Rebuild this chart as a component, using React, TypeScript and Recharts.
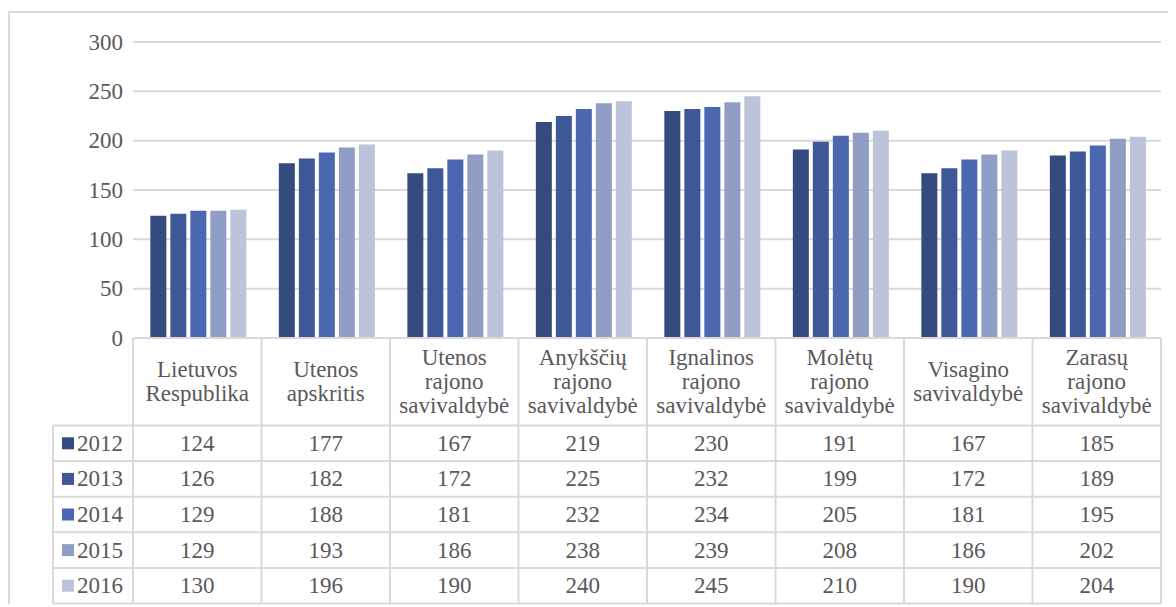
import { Bar, BarChart, CartesianGrid, XAxis, YAxis } from 'recharts';

const categories = [
  'Lietuvos\nRespublika',
  'Utenos\napskritis',
  'Utenos\nrajono\nsavivaldybė',
  'Anykščių\nrajono\nsavivaldybė',
  'Ignalinos\nrajono\nsavivaldybė',
  'Molėtų\nrajono\nsavivaldybė',
  'Visagino\nsavivaldybė',
  'Zarasų\nrajono\nsavivaldybė',
];

const years = ['2012', '2013', '2014', '2015', '2016'];
const colors = ['#354a7f', '#3d5797', '#4a67af', '#909ec6', '#bcc3da'];

const v2012 = [124, 177, 167, 219, 230, 191, 167, 185];
const v2013 = [126, 182, 172, 225, 232, 199, 172, 189];
const v2014 = [129, 188, 181, 232, 234, 205, 181, 195];
const v2015 = [129, 193, 186, 238, 239, 208, 186, 202];
const v2016 = [130, 196, 190, 240, 245, 210, 190, 204];

const series = [v2012, v2013, v2014, v2015, v2016];
const yTicks = [0, 50, 100, 150, 200, 250, 300];

const data = categories.map((name, i) => {
  const row: Record<string, string | number> = { name };
  years.forEach((y, s) => {
    row[y] = series[s][i];
  });
  return row;
});

// layout (svg coordinates)
const W = 1166;
const H = 594;
const PLOT_L = 123;
const PLOT_R = 1151;
const AXIS_Y = 325;
const HEADER_B = 412.5;
const ROW_H = 35.6;
const LEG_L = 43;
const BAND = (PLOT_R - PLOT_L) / categories.length;
const LINE = '#d9d9d9';
const TEXT = '#595959';
const FONT = "'Liberation Serif', 'DejaVu Serif', serif";
const FS = 23;
const txt = { fontFamily: FONT, fontSize: FS };

function TableTick(props: any) {
  const { x, index, payload } = props;
  const right = x + BAND / 2;
  const bottom = HEADER_B + ROW_H * years.length;
  const lines = String(payload.value).split('\n');
  const headerMid = (AXIS_Y + HEADER_B) / 2;
  const lh = 24;
  const firstY = headerMid - ((lines.length - 1) * lh) / 2;

  return (
    <g>
      {index === 0 && (
        <g>
          <line x1={PLOT_L} x2={PLOT_L} y1={AXIS_Y} y2={bottom} stroke={LINE} strokeWidth={2} />
          <line x1={LEG_L} x2={LEG_L} y1={HEADER_B} y2={bottom} stroke={LINE} strokeWidth={2} />
          {years.map((_, r) => (
            <line
              key={'h' + r}
              x1={LEG_L}
              x2={PLOT_R}
              y1={HEADER_B + ROW_H * r}
              y2={HEADER_B + ROW_H * r}
              stroke={LINE}
              strokeWidth={2}
            />
          ))}
          <line x1={LEG_L} x2={PLOT_R} y1={bottom} y2={bottom} stroke={LINE} strokeWidth={2} />
          {years.map((yr, r) => {
            const cy = HEADER_B + ROW_H * (r + 0.5);
            return (
              <g key={'l' + yr}>
                <rect x={LEG_L + 9} y={cy - 6} width={12} height={12} fill={colors[r]} />
                <text x={LEG_L + 24} y={cy} dominantBaseline="central" textAnchor="start" fill={TEXT} style={txt}>
                  {yr}
                </text>
              </g>
            );
          })}
        </g>
      )}
      <line x1={right} x2={right} y1={AXIS_Y} y2={bottom} stroke={LINE} strokeWidth={2} />
      {lines.map((t, k) => (
        <text key={k} x={x} y={firstY + k * lh} textAnchor="middle" dominantBaseline="central" fill={TEXT} style={txt}>
          {t}
        </text>
      ))}
      {series.map((vals, r) => (
        <text
          key={'v' + r}
          x={x}
          y={HEADER_B + ROW_H * (r + 0.5)}
          textAnchor="middle"
          dominantBaseline="central"
          fill={TEXT}
          style={txt}
        >
          {vals[index]}
        </text>
      ))}
    </g>
  );
}

function YTick(props: any) {
  const { x, y, payload } = props;
  return (
    <text x={x} y={y} textAnchor="end" dominantBaseline="central" fill={TEXT} style={txt}>
      {payload.value}
    </text>
  );
}

export default function App() {
  return (
    <div style={{ position: 'relative', width: 1176, height: 607, fontFamily: FONT }}>
      <div
        style={{
          position: 'absolute',
          left: 0,
          top: 3,
          width: 1200,
          height: 591,
          borderTop: `2px solid ${LINE}`,
          borderLeft: `2px solid ${LINE}`,
        }}
      />
      <div style={{ position: 'absolute', left: 2, top: 5 }}>
        <BarChart
          width={W}
          height={H}
          data={data}
          margin={{ top: 29, right: W - PLOT_R, bottom: 3, left: 0 }}
          barCategoryGap="13.5%"
          barGap={4}
        >
          <CartesianGrid vertical={false} stroke={LINE} strokeWidth={2} />
          <YAxis
            width={PLOT_L}
            domain={[0, 300]}
            ticks={yTicks}
            axisLine={false}
            tickLine={false}
            tickSize={0}
            tickMargin={10}
            tick={YTick}
          />
          <XAxis
            dataKey="name"
            height={266}
            axisLine={{ stroke: LINE, strokeWidth: 2 }}
            tickLine={false}
            tickSize={0}
            tickMargin={0}
            interval={0}
            tick={TableTick}
          />
          {years.map((y, s) => (
            <Bar key={y} dataKey={y} fill={colors[s]} isAnimationActive={false} />
          ))}
        </BarChart>
      </div>
    </div>
  );
}
